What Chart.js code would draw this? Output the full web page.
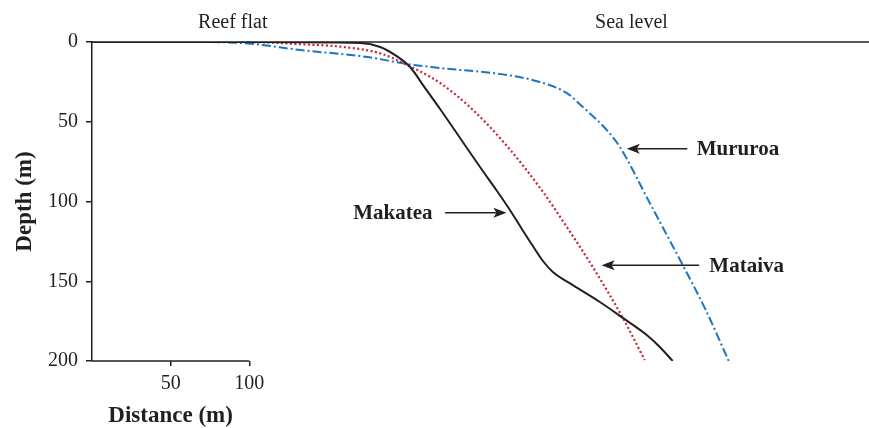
<!DOCTYPE html>
<html>
<head>
<meta charset="utf-8">
<script src="https://cdn.jsdelivr.net/npm/chart.js@4.4.1/dist/chart.umd.min.js"></script>
<style>
  html, body { margin: 0; padding: 0; background: #fff; }
  #wrap { width: 869px; height: 428px; }
</style>
</head>
<body>
<div id="wrap"><canvas id="myChart"></canvas></div>
<script>
// data (distance m, depth m)
const makateaDist  = [0, 100, 170.5, 183.2, 192.7, 202.2, 211.7, 221.3, 234, 246.7, 257.5, 265.7, 273.3, 280.3, 286.7, 293, 305.7, 322.9, 337.5, 352.7, 361, 369.2];
const makateaDepth = [0, 0, 0.6, 3.1, 8.2, 15.7, 28.8, 42, 60.2, 78.4, 93.4, 105.3, 117.2, 127.9, 137.3, 144.2, 152.4, 163, 173, 183.7, 191.2, 200];

const mataivaDist  = [0, 100, 132.4, 157.8, 183.2, 197.8, 221.3, 242.2, 263.8, 285.4, 301.9, 318.4, 337.5, 351.4];
const mataivaDepth = [0, 0, 1.4, 2.9, 7.1, 13.2, 25.7, 42.6, 65.2, 92.2, 116, 141.1, 173, 199.4];

const mururoaDist  = [0, 68.9, 98.7, 132.4, 174.9, 200.3, 221.3, 263.8, 284.8, 301.9, 312.1, 327.3, 335.6, 354.6, 374.9, 390.2, 404.8];
const mururoaDepth = [0, 0, 0.9, 5, 9.4, 13.8, 16.3, 20.7, 25.1, 32, 40.8, 55.2, 65.8, 100.9, 138.6, 168, 200];

const yTicks = [0, 50, 100, 150, 200];
const xTicks = [50, 100];

// annotation labels: [text, x, y, arrow from x, arrow to x, align]
const labels = [
  ['Makatea', 216.5, 107, 224.5, 263.5, 'right'],
  ['Mururoa', 384.5, 67, 378.5, 340, 'left'],
  ['Mataiva', 392.5, 140, 386, 324, 'left']
];

const ink = '#231f20';
const serif = '"Liberation Serif", "Times New Roman", serif';

function pts(xs, ys) {
  return xs.map((x, i) => ({ x: x, y: ys[i] }));
}

const extras = {
  id: 'extras',
  beforeDatasetsDraw(chart) {
    const c = chart.ctx, x = chart.scales.x, y = chart.scales.y, a = chart.chartArea;
    c.save();
    c.strokeStyle = ink;
    c.lineWidth = 1.5;
    // sea level line
    c.beginPath();
    c.moveTo(x.getPixelForValue(0), y.getPixelForValue(0));
    c.lineTo(a.right, y.getPixelForValue(0));
    c.stroke();
    // short x axis (0-100)
    c.beginPath();
    c.moveTo(x.getPixelForValue(0), y.getPixelForValue(200));
    c.lineTo(x.getPixelForValue(100), y.getPixelForValue(200));
    c.stroke();
    c.restore();
  },
  afterDraw(chart) {
    const c = chart.ctx, x = chart.scales.x, y = chart.scales.y, a = chart.chartArea;
    c.save();
    c.fillStyle = ink;
    c.strokeStyle = ink;
    c.textBaseline = 'alphabetic';
    c.textAlign = 'center';
    c.font = '20px ' + serif;
    c.fillText('Reef flat', x.getPixelForValue(89.5), a.top - 14);
    c.fillText('Sea level', x.getPixelForValue(343), a.top - 14);

    c.font = 'bold 23px ' + serif;
    c.fillText('Distance (m)', x.getPixelForValue(50), 422);

    c.font = 'bold 21px ' + serif;
    c.textBaseline = 'middle';
    labels.forEach(l => {
      const py = y.getPixelForValue(l[2]);
      c.textAlign = l[5];
      c.fillText(l[0], x.getPixelForValue(l[1]), py + 1);
      const x0 = x.getPixelForValue(l[3]), x1 = x.getPixelForValue(l[4]);
      const d = x1 > x0 ? 1 : -1;
      c.lineWidth = 1.5;
      c.beginPath();
      c.moveTo(x0, py);
      c.lineTo(x1 - d * 8, py);
      c.stroke();
      c.beginPath();
      c.moveTo(x1, py);
      c.lineTo(x1 - d * 13, py - 5);
      c.lineTo(x1 - d * 10, py);
      c.lineTo(x1 - d * 13, py + 5);
      c.closePath();
      c.fill();
    });
    c.restore();
  }
};

const ctx = document.getElementById('myChart');
new Chart(ctx, {
  type: 'line',
  data: {
    datasets: [
      {
        label: 'Makatea',
        data: pts(makateaDist, makateaDepth),
        borderColor: ink,
        borderWidth: 2,
      },
      {
        label: 'Mataiva',
        data: pts(mataivaDist, mataivaDepth),
        borderColor: '#cc2233',
        borderWidth: 2.2,
        borderDash: [2, 2.5],
      },
      {
        label: 'Mururoa',
        data: pts(mururoaDist, mururoaDepth),
        borderColor: '#1b75c2',
        borderWidth: 2,
        borderDash: [9, 3, 2, 3],
      }
    ]
  },
  options: {
    responsive: true,
    maintainAspectRatio: false,
    animation: false,
    layout: { padding: { top: 42, right: 0, left: 0, bottom: 0 } },
    elements: {
      point: { radius: 0 },
      line: { cubicInterpolationMode: 'monotone', fill: false }
    },
    plugins: {
      legend: { display: false },
      tooltip: { enabled: false }
    },
    scales: {
      x: {
        type: 'linear',
        min: 0,
        max: 494,
        afterBuildTicks: s => { s.ticks = xTicks.map(v => ({ value: v })); },
        afterFit: s => { s.height = 67; },
        border: { display: false },
        grid: { drawOnChartArea: false, drawTicks: true, tickLength: 5, color: ink, lineWidth: 1.5 },
        ticks: { color: ink, font: { family: serif, size: 20 }, padding: 6, maxRotation: 0 }
      },
      y: {
        reverse: true,
        min: 0,
        max: 200,
        afterBuildTicks: s => { s.ticks = yTicks.map(v => ({ value: v })); },
        afterFit: s => { s.width = 92; },
        border: { display: true, color: ink, width: 1.5 },
        grid: { drawOnChartArea: false, drawTicks: true, tickLength: 6, color: ink, lineWidth: 1.5 },
        ticks: { color: ink, font: { family: serif, size: 20 }, padding: 8 },
        title: {
          display: true,
          text: 'Depth (m)',
          color: ink,
          font: { family: serif, size: 23, weight: 'bold' },
          padding: { top: 11, bottom: 0 }
        }
      }
    }
  },
  plugins: [extras]
});
</script>
</body>
</html>
